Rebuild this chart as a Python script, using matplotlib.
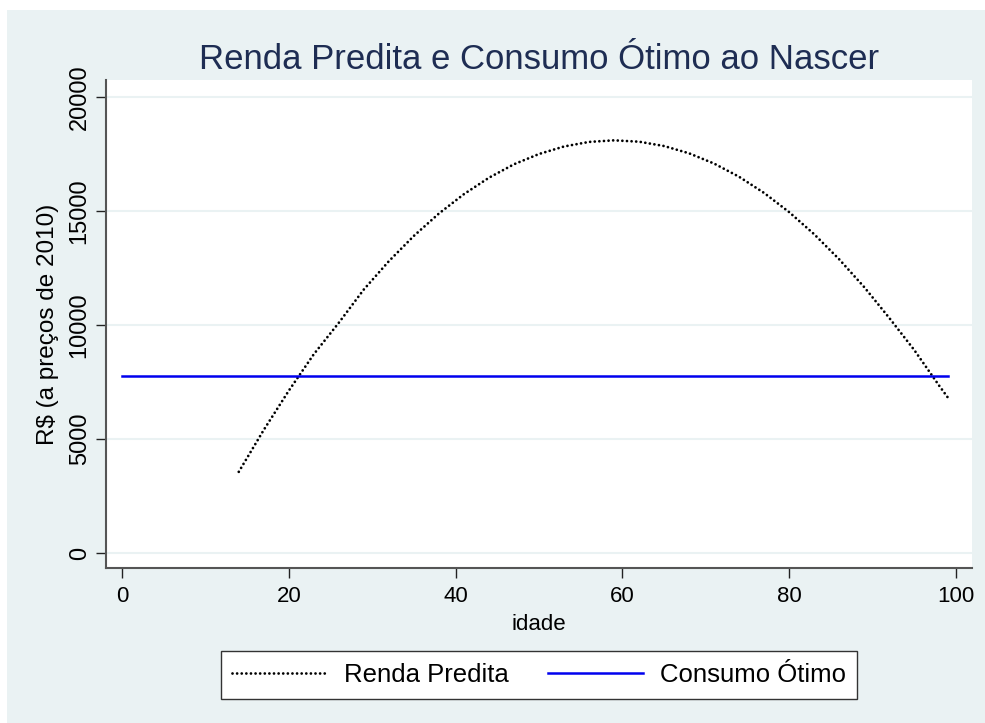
import matplotlib
matplotlib.use("Agg")
import matplotlib.pyplot as plt
from matplotlib.patches import Rectangle

# Data
idade = [14, 17, 20, 23, 26, 29, 32, 35, 38, 41, 44, 47, 50, 53, 56, 59,
         62, 65, 68, 71, 74, 77, 80, 83, 86, 89, 92, 95, 98, 99]
renda_predita = [3560, 5400, 7120, 8720, 10100, 11560, 12800, 13910, 14890,
                 15740, 16460, 17050, 17500, 17830, 18030, 18100, 18040,
                 17850, 17530, 17080, 16500, 15790, 14950, 13980, 12880,
                 11660, 10310, 8900, 7330, 6830]
idade_consumo = [0, 99]
consumo_otimo = [7780, 7780]

x_ticks = [0, 20, 40, 60, 80, 100]
y_ticks = [0, 5000, 10000, 15000, 20000]

bg = "#EAF2F3"
font = "Liberation Sans"
W, H = 985, 723

fig = plt.figure(figsize=(W / 100, H / 100), dpi=100)
fig.patch.set_facecolor("white")
# Stata graph region (light blue-grey) with a thin white margin top/left
fig.patches.append(Rectangle((7 / W, 0), 1, 1 - 10 / H, transform=fig.transFigure,
                             fc=bg, ec="none", zorder=-10))

ax = fig.add_axes([106 / W, 1 - 568 / H, (972 - 106) / W, (568 - 80) / H])
ax.set_facecolor("white")

ax.plot(idade, renda_predita, color="black", lw=2.0,
        linestyle=(0, (0.01, 1.65)), dash_capstyle="round", label="Renda Predita")
ax.plot(idade_consumo, consumo_otimo, color="#0000ee", lw=1.8, label="Consumo Ótimo")

ax.set_xlim(-1.92, 101.92)
ax.set_ylim(-658, 20746)
ax.set_xticks(x_ticks)
ax.set_yticks(y_ticks)
ax.set_xticklabels([str(v) for v in x_ticks], fontsize=16, family=font)
ax.set_yticklabels([str(v) for v in y_ticks], fontsize=17, family=font,
                   rotation=90, va="center")
ax.tick_params(axis="both", direction="out", length=7, width=1, color="#222222")
ax.tick_params(axis="x", pad=6)
ax.tick_params(axis="y", pad=4)

ax.yaxis.grid(True, color=bg, lw=1.5)
ax.set_axisbelow(True)
for side in ["top", "right"]:
    ax.spines[side].set_visible(False)
for side in ["left", "bottom"]:
    ax.spines[side].set_color("#555555")
    ax.spines[side].set_linewidth(1.5)

fig.text(539 / W, 1 - 69 / H, "Renda Predita e Consumo Ótimo ao Nascer",
         ha="center", va="baseline", fontsize=25, color="#1E2D53", family=font)
fig.text(539 / W, 1 - 625 / H, "idade", ha="center", va="center",
         fontsize=16, family=font)
fig.text(48 / W, 1 - 324 / H, "R\\$ (a preços de 2010)", ha="center", va="center",
         rotation=90, fontsize=17.5, family=font)

leg = fig.legend(loc="center", bbox_to_anchor=(539 / W, 1 - 675 / H), ncol=2,
                 frameon=True, fancybox=False, handlelength=3.7, handletextpad=0.66,
                 columnspacing=1.5, prop={"family": font, "size": 18.5},
                 borderpad=0.45)
leg.get_frame().set_edgecolor("#333333")
leg.get_frame().set_linewidth(1.0)
leg.get_frame().set_facecolor("white")
leg.get_frame().set_alpha(1)

fig.savefig("out.png", dpi=100, facecolor=fig.get_facecolor())
